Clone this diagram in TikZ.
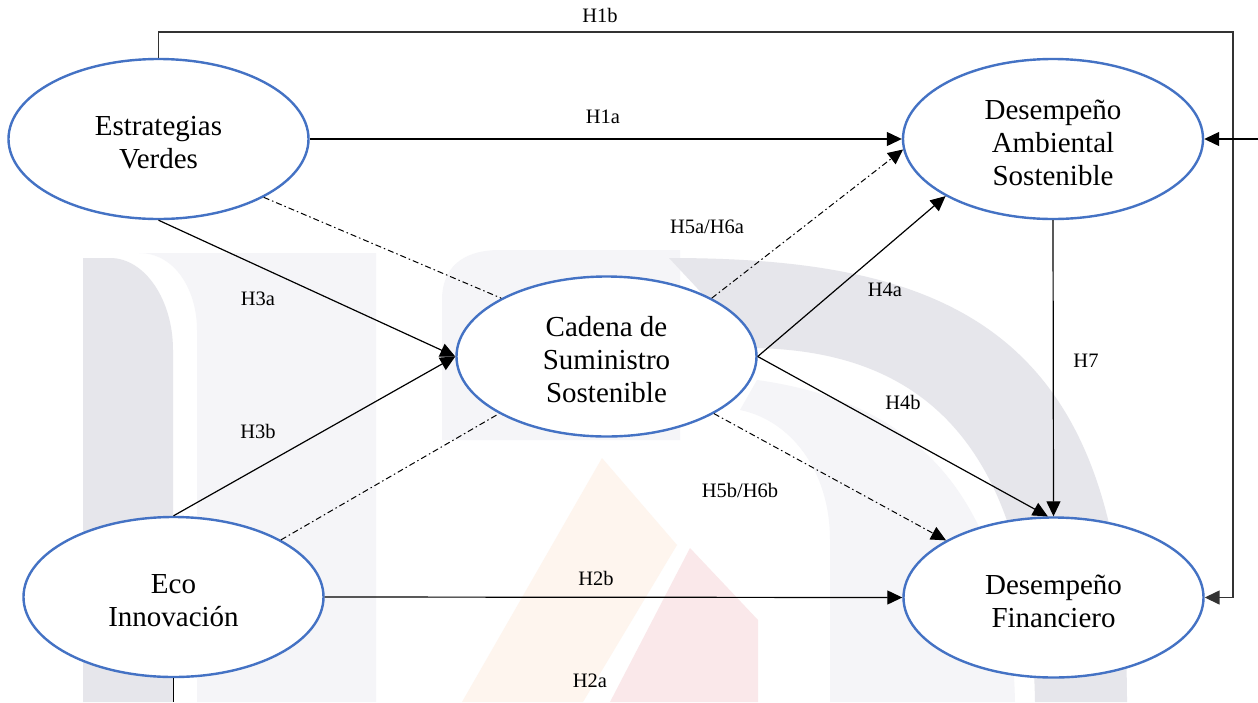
\documentclass[tikz,border=0pt]{standalone}
\usepackage{fontspec}
\setmainfont{Liberation Serif}
\usetikzlibrary{shapes.geometric,arrows.meta}
\definecolor{nodeblue}{HTML}{4472C4}
\definecolor{wmdark}{HTML}{E6E6EB}
\definecolor{wmlight}{HTML}{F5F5F8}
\definecolor{wmorange}{HTML}{FEF5EE}
\definecolor{wmpink}{HTML}{FAE8EA}
\newcommand{\dropline}{\rule{0pt}{27pt}}
\begin{document}
\begin{tikzpicture}[x=1pt,y=-1pt,
  construct/.style={ellipse, draw=nodeblue, line width=2.4pt, fill=white,
    minimum width=300pt, minimum height=160pt, inner sep=0pt, align=center,
    font=\fontsize{29}{33}\selectfont},
  hyp/.style={font=\fontsize{20.5}{24}\selectfont, inner sep=0pt},
  link/.style={line width=1.2pt, -{Triangle[length=15pt,width=14pt]}},
  medlink/.style={line width=1pt, dash pattern=on 6pt off 3pt on 1.5pt off 3pt},
  medarrow/.style={medlink, -{Triangle[length=15pt,width=14pt]}},
  frameline/.style={line width=1.5pt, draw=black!80},
]
\useasboundingbox (0,0) rectangle (1258,702);
\fill[white] (0,0) rectangle (1258,702);
% faint watermark
\fill[wmlight] (197,702) -- (197,330) .. controls (197,290) and (175,253) .. (139,253) -- (376,253) -- (376,702) -- cycle;
\fill[wmdark] (83,702) -- (83,258) -- (110,258) .. controls (145,258) and (173,300) .. (173,350) -- (173,702) -- cycle;
\fill[wmlight] (442,440) -- (442,300) .. controls (442,268) and (462,250) .. (500,250) -- (680,250) -- (680,440) -- cycle;
\fill[wmlight] (757,380) .. controls (900,400) and (1010,480) .. (1015,702) -- (830,702) -- (830,540) .. controls (830,470) and (790,420) .. (740,410) -- cycle;
\fill[wmdark] (669,258) .. controls (950,258) and (1127,330) .. (1127,702) -- (1035,702) .. controls (1030,420) and (900,350) .. (753,348) -- cycle;
\fill[wmorange] (462,702) -- (602,458) -- (677,545) -- (583,702) -- cycle;
\fill[wmpink] (610,702) -- (690,548) -- (758,620) -- (758,702) -- cycle;

% constructs
\node[construct] (EV) at (158.5,139) {\dropline Estrategias\\Verdes};
\node[construct] (DAS) at (1053,139) {\dropline Desempeño\\Ambiental\\Sostenible};
\node[construct] (CSS) at (606.5,356.5) {\dropline Cadena de\\Suministro\\Sostenible};
\node[construct] (ECO) at (173.5,597) {\dropline Eco\\Innovación};
\node[construct] (DF) at (1053.5,597.5) {\dropline Desempeño\\Financiero};

\coordinate (rightin) at (1258,139);
\coordinate (bottomout) at (173.5,702);

% H1b frame line
\draw[frameline, -{Triangle[length=15pt,width=14pt]}] (EV.north) -- ++(0,-26) -| (1233,597.5) -- (DF.east);
\draw[link] (rightin) -- (DAS.east);
\draw[line width=1.2pt] (ECO.south) -- (bottomout);

% direct effects
\draw[link] (EV.east) -- (DAS.west);
\draw[link] (ECO.east) -- (DF.west);
\draw[link] (EV.south) -- (CSS.west);
\draw[link] (ECO.north) -- (CSS.west);
\draw[link] (CSS.east) -- (DAS.208.3);
\draw[link] (CSS.east) -- (DF.94.6);
\draw[link] (DAS.south) -- (DF.north);

% mediation paths
\draw[medlink] (EV.-29.1) -- (CSS.151.6);
\draw[medarrow] (CSS.29.3) -- (DAS.184.2);
\draw[medlink] (ECO.28.2) -- (CSS.208.5);
\draw[medarrow] (CSS.-28.9) -- (DF.152.5);

% labels
\node[hyp] (lH1b) at (600,15) {H1b};
\node[hyp] (lH1a) at (603,117) {H1a};
\node[hyp] (lH56a) at (707,227) {H5a/H6a};
\node[hyp] (lH3a) at (258,299) {H3a};
\node[hyp] (lH4a) at (885,290) {H4a};
\node[hyp] (lH7) at (1086,361) {H7};
\node[hyp] (lH4b) at (903,402) {H4b};
\node[hyp] (lH3b) at (258,431) {H3b};
\node[hyp] (lH56b) at (740,490) {H5b/H6b};
\node[hyp] (lH2b) at (596,578) {H2b};
\node[hyp] (lH2a) at (590,681) {H2a};
\end{tikzpicture}
\end{document}
